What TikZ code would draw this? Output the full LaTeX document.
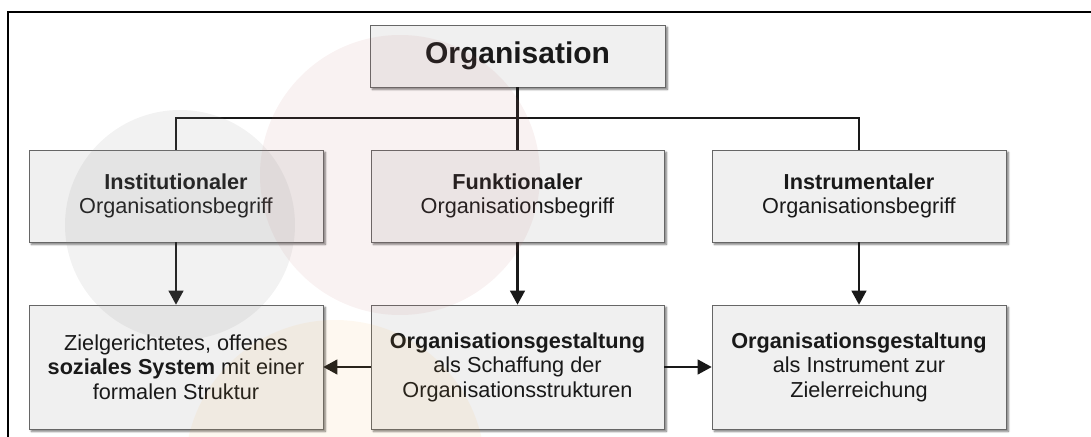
\documentclass[tikz,border=0pt]{standalone}
\usepackage{fontspec}
\setsansfont{Liberation Sans}
\usetikzlibrary{arrows.meta,positioning,shadows.blur}

\begin{document}
\begin{tikzpicture}[
  font=\sffamily,
  box/.style={rectangle, fill=black!6, draw=black!60, line width=0.5pt, inner sep=0pt,
    align=center, text=black!90, font=\sffamily\fontsize{18.5}{21}\selectfont,
    blur shadow={shadow xshift=0.07cm, shadow yshift=-0.07cm, shadow blur steps=6,
      shadow blur radius=0.6mm, shadow opacity=55}},
  head/.style={box, font=\sffamily\bfseries\fontsize{25.6}{30}\selectfont,
    minimum width=8.85cm, minimum height=1.86cm},
  kind/.style={box, minimum width=8.82cm, minimum height=2.76cm},
  what/.style={box, minimum width=8.82cm, minimum height=3.72cm},
  conn/.style={line width=0.065cm, black!90},
  flow/.style={conn, -{Triangle[width=4.4mm, length=4.2mm]}},
  frame/.style={line width=0.065cm, black, line join=miter},
  wm/.style={draw=none},
]
\clip (0,0) rectangle (32.73,-13.11);

% ---------- frame ----------
\draw[frame] (32.8,-0.36) -- (0.24,-0.36) -- (0.24,-13.2);

% ---------- top ----------
\node[head] (org) at (15.525,-1.68) {Organisation};
\coordinate (bus) at (15.525,-3.54);

% ---------- three notions ----------
\node[kind] (inst)  at (5.28,-5.88)   {\textbf{Institutionaler}\\Organisationsbegriff};
\node[kind, minimum width=8.79cm] (funk) at (15.525,-5.88) {\textbf{Funktionaler}\\Organisationsbegriff};
\node[kind] (instr) at (25.77,-5.88)  {\textbf{Instrumentaler}\\Organisationsbegriff};

% ---------- meanings ----------
\node[what] (sys)   at (5.28,-11.01)  {Zielgerichtetes, offenes\\\textbf{soziales System} mit einer\\formalen Struktur};
\node[what, minimum width=8.79cm] (gest) at (15.525,-11.01) {\textbf{Organisationsgestaltung}\\als Schaffung der\\Organisationsstrukturen};
\node[what] (ziel)  at (25.77,-11.01) {\textbf{Organisationsgestaltung}\\als Instrument zur\\Zielerreichung};

% ---------- connectors ----------
\draw[conn] (org.south) -- (bus);
\draw[conn] (inst.north) |- (bus) -| (instr.north);
\draw[conn] (bus) -- (funk.north);

\draw[flow] (inst.south) -- (sys.north);
\draw[flow] (funk.south) -- (gest.north);
\draw[flow] (instr.south) -- (ziel.north);
\draw[flow] (gest.west) -- (sys.east);
\draw[flow] (gest.east) -- (ziel.west);

% ---------- watermark ----------
\fill[wm, fill={rgb,255:red,190;green,110;blue,110}, opacity=0.09] (12.0,-5.25) circle (4.2);
\fill[wm, fill=black!42, opacity=0.12] (5.4,-6.75) circle (3.45);
\fill[wm, fill={rgb,255:red,240;green,170;blue,60}, opacity=0.08] (10.05,-14.1) circle (4.5);
\end{tikzpicture}
\end{document}
